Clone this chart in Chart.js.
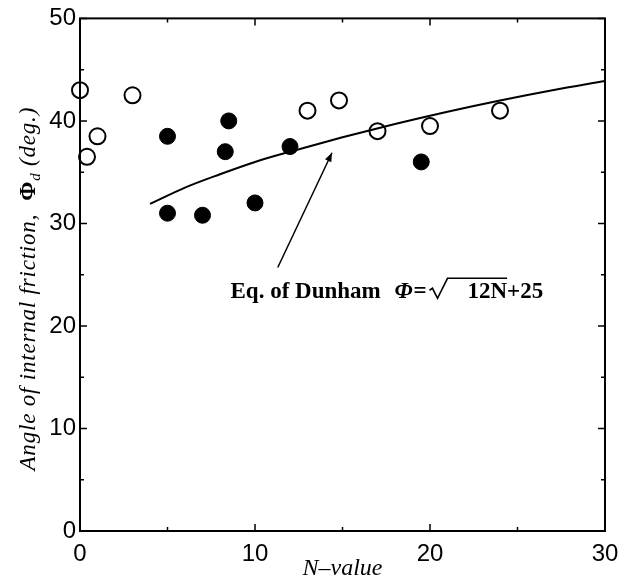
<!DOCTYPE html>
<html><head><meta charset="utf-8">
<script src="https://cdn.jsdelivr.net/npm/chart.js@4.4.0/dist/chart.umd.min.js"></script>
<style>html,body{margin:0;padding:0;background:#fff}#wrap{width:629px;height:583px;position:relative}</style>
</head><body><div id="wrap"><canvas id="c"></canvas></div>
<script>
// ---- data ----
const xTickLabels = [0, 10, 20, 30];
const yTickLabels = [0, 10, 20, 30, 40, 50];
const openN   = [0, 0.4, 1, 3, 13, 14.8, 17, 20, 24];
const openPhi = [43.0, 36.5, 38.5, 42.5, 41.0, 42.0, 39.0, 39.5, 41.0];
const filledN   = [5, 5, 7, 8.5, 8.3, 10, 12, 19.5];
const filledPhi = [38.5, 31.0, 30.8, 40.0, 37.0, 32.0, 37.5, 36.0];
const curveN   = [4, 6, 8, 10, 12, 15, 18, 21, 24, 27, 30];
const curvePhi = [31.9, 33.5, 34.8, 36.0, 37.0, 38.4, 39.7, 40.9, 42.0, 43.0, 43.9];
const arrowFrom = [11.3, 25.7];
const arrowTo   = [14.4, 36.9];
const annotAt   = [8.6, 22.7];
const xTitle = "N\u2013value";
const yTitleParts = ["Angle of internal friction,  ", "\u03A6", "d", " (deg.)"];

const pts = (xs, ys) => xs.map((x, i) => ({x: x, y: ys[i]}));

const SERIF = "'Liberation Serif','Times New Roman',serif";
const SANS = "'Liberation Sans',Arial,sans-serif";

const decor = {
  id: 'decor',
  afterDraw(chart) {
    const ctx = chart.ctx, a = chart.chartArea;
    const xs = chart.scales.x, ys = chart.scales.y;
    ctx.save();
    ctx.strokeStyle = '#000'; ctx.fillStyle = '#000';
    // frame
    ctx.lineWidth = 2;
    ctx.strokeRect(a.left, a.top, a.right - a.left, a.bottom - a.top);
    // ticks (inward, mirrored)
    ctx.lineWidth = 1.5;
    ctx.beginPath();
    for (let v = 0; v <= 30; v += 5) {
      const len = v % 10 === 0 ? 7 : 4;
      const px = xs.getPixelForValue(v);
      ctx.moveTo(px, a.bottom); ctx.lineTo(px, a.bottom - len);
      ctx.moveTo(px, a.top); ctx.lineTo(px, a.top + len);
    }
    for (let v = 0; v <= 50; v += 5) {
      const len = v % 10 === 0 ? 7 : 4;
      const py = ys.getPixelForValue(v);
      ctx.moveTo(a.left, py); ctx.lineTo(a.left + len, py);
      ctx.moveTo(a.right, py); ctx.lineTo(a.right - len, py);
    }
    ctx.stroke();

    // arrow
    const fx = xs.getPixelForValue(arrowFrom[0]), fy = ys.getPixelForValue(arrowFrom[1]);
    const tx = xs.getPixelForValue(arrowTo[0]), ty = ys.getPixelForValue(arrowTo[1]);
    ctx.lineWidth = 1.5;
    ctx.beginPath(); ctx.moveTo(fx, fy); ctx.lineTo(tx, ty); ctx.stroke();
    const ang = Math.atan2(ty - fy, tx - fx);
    ctx.beginPath();
    ctx.moveTo(tx, ty);
    ctx.lineTo(tx - 9 * Math.cos(ang) + 3.5 * Math.sin(ang), ty - 9 * Math.sin(ang) - 3.5 * Math.cos(ang));
    ctx.lineTo(tx - 9 * Math.cos(ang) - 3.5 * Math.sin(ang), ty - 9 * Math.sin(ang) + 3.5 * Math.cos(ang));
    ctx.closePath(); ctx.fill();

    // annotation text
    const ax = xs.getPixelForValue(annotAt[0]), ay = ys.getPixelForValue(annotAt[1]);
    ctx.textBaseline = 'alphabetic'; ctx.textAlign = 'left';
    ctx.font = 'bold 23px ' + SERIF;
    ctx.fillText('Eq. of Dunham', ax, ay);
    ctx.font = 'bold italic 23px ' + SERIF;
    ctx.fillText('\u03A6', ax + 164, ay);
    ctx.font = 'bold 23px ' + SERIF;
    ctx.fillText('=', ax + 183, ay);
    ctx.fillText('12N', ax + 237, ay);
    const w12 = ctx.measureText('12N').width;
    ctx.fillText('+25', ax + 237 + w12, ay);
    // radical sign with overline
    ctx.lineWidth = 1.6;
    ctx.lineJoin = 'miter';
    ctx.beginPath();
    ctx.moveTo(ax + 199, ay - 8);
    ctx.lineTo(ax + 202, ay - 10);
    ctx.lineTo(ax + 207, ay);
    ctx.lineTo(ax + 217, ay - 20);
    ctx.lineTo(ax + 237 + w12, ay - 20);
    ctx.stroke();

    // x title
    ctx.font = 'italic 24px ' + SERIF;
    ctx.textAlign = 'center';
    ctx.fillText(xTitle, (a.left + a.right) / 2, 575);

    // y title (rotated)
    ctx.translate(35, (a.top + a.bottom) / 2 + 14);
    ctx.rotate(-Math.PI / 2);
    ctx.textAlign = 'left';
    try { ctx.letterSpacing = '0.8px'; } catch (e) {}
    const fonts = ['italic 23px ' + SERIF, 'bold 23px ' + SERIF, 'italic 15px ' + SERIF, 'italic 23px ' + SERIF];
    const dys = [0, 0, 5, 0];
    let total = 0; const ws = [];
    yTitleParts.forEach((t, i) => { ctx.font = fonts[i]; const w = ctx.measureText(t).width; ws.push(w); total += w; });
    let cx = -total / 2;
    yTitleParts.forEach((t, i) => { ctx.font = fonts[i]; ctx.fillText(t, cx, dys[i]); cx += ws[i]; });
    ctx.restore();
  }
};

new Chart(document.getElementById('c'), {
  type: 'scatter',
  data: {
    datasets: [
      { label: 'Dunham', type: 'line', data: pts(curveN, curvePhi), borderColor: '#000', borderWidth: 2,
        pointRadius: 0, fill: false, cubicInterpolationMode: 'monotone', order: 3, clip: false },
      { label: 'open', data: pts(openN, openPhi), pointStyle: 'circle', pointRadius: 8,
        backgroundColor: 'rgba(255,255,255,0)', borderColor: '#000', borderWidth: 2, order: 1, clip: false },
      { label: 'filled', data: pts(filledN, filledPhi), pointStyle: 'circle', pointRadius: 8,
        backgroundColor: '#000', borderColor: '#000', borderWidth: 1, order: 2, clip: false }
    ]
  },
  options: {
    responsive: true, maintainAspectRatio: false, animation: false,
    layout: { padding: { top: 16, right: 24, left: 0, bottom: 0 } },
    plugins: { legend: { display: false }, tooltip: { enabled: false } },
    scales: {
      x: {
        type: 'linear', min: 0, max: 30,
        afterFit: s => { s.height = 52; },
        afterBuildTicks: s => { s.ticks = xTickLabels.map(v => ({value: v})); },
        grid: { display: false, drawTicks: false },
        border: { display: false },
        ticks: { color: '#000', font: { family: SANS, size: 24 }, padding: 9, maxRotation: 0 }
      },
      y: {
        type: 'linear', min: 0, max: 50,
        afterFit: s => { s.width = 80; },
        afterBuildTicks: s => { s.ticks = yTickLabels.map(v => ({value: v})); },
        grid: { display: false, drawTicks: false },
        border: { display: false },
        ticks: { color: '#000', font: { family: SANS, size: 24 }, padding: 4 }
      }
    }
  },
  plugins: [decor]
});
</script></body></html>
